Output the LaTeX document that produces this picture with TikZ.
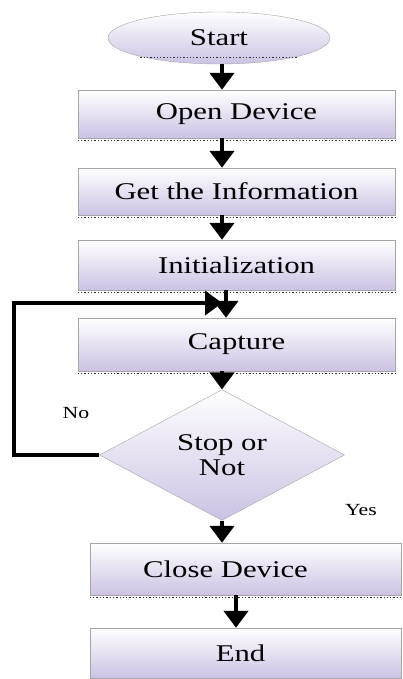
\documentclass[tikz,border=0pt]{standalone}
\usepackage{fontspec}
\setmainfont{Liberation Serif}
\usetikzlibrary{shapes.geometric,arrows.meta}
\definecolor{lav}{RGB}{204,194,228}
\newcommand{\wide}[1]{\scalebox{1.28}[1]{#1}}
\tikzset{
    box/.style = {draw = gray!70, thin, rectangle, top color = white, bottom color = lav,
        inner sep = 0pt, font = \fontsize{24}{27}\selectfont},
    flow/.style = {line width = 4.5pt, -{Triangle[width = 24pt, length = 17pt]}},
    shade/.style = {dotted, line width = 1.3pt, gray!40!black}
}
\begin{document}
\begin{tikzpicture}[x = 1pt, y = 1pt]
        \useasboundingbox (0,0) rectangle (402,-679);
        \node[box, ellipse, minimum width = 222pt, minimum height = 52pt] (Start) at (219,-38) {\wide{Start}};
        \node[box, minimum width = 317pt, minimum height = 48pt] (Open) at (236.5,-114) {\wide{Open Device}};
        \node[box, minimum width = 317pt, minimum height = 47pt] (Info) at (236.5,-191.5) {\wide{Get the Information}};
        \node[box, minimum width = 317pt, minimum height = 50pt] (Init) at (236.5,-265) {\wide{Initialization}};
        \node[box, minimum width = 317pt, minimum height = 53pt] (Capture) at (236.5,-344.5) {\wide{Capture}};
        \node[box, diamond, minimum width = 245pt, minimum height = 112pt, align = center] (Stop) at (222,-455) {\wide{Stop or}\\[-2pt]\wide{Not}};
        \node[box, minimum width = 311pt, minimum height = 52pt] (Close) at (245.5,-569) {\wide{Close Device}\hspace*{40pt}};
        \node[box, minimum width = 311pt, minimum height = 50pt] (End) at (245.5,-653) {\wide{End}\hspace*{10pt}};
        \foreach \n in {Open, Info, Init, Capture, Close, End}
            \draw[shade] ([yshift = -2pt]\n.south west) -- ([yshift = -2pt]\n.south east);
        \draw[shade] ([yshift = -1pt]Start.south west) -- ([yshift = -1pt]Start.south east);
        \node[font = \fontsize{17}{19}\selectfont] (No) at (76,-413) {\wide{No}};
        \node[font = \fontsize{17}{19}\selectfont] (Yes) at (361,-510) {\wide{Yes}};
        % main line
        \coordinate (Axis) at (222,0);
        \draw[flow] (Start.south -| Axis) -- (Open.north -| Axis);
        \draw[flow] (Open.south -| Axis) -- (Info.north -| Axis);
        \draw[flow] (Info.south -| Axis) -- (Init.north -| Axis);
        \draw[flow] ([xshift = 4pt]Init.south -| Axis) -- ([xshift = 4pt]Capture.north -| Axis);
        \draw[flow] (Capture.south -| Axis) -- (Stop.north);
        \draw[flow] (Stop.south) -- (Close.north -| Stop.south);
        \draw[flow] ([xshift = 14pt]Close.south -| Axis) -- ([xshift = 14pt]End.north -| Axis);
        % loop back
        \coordinate (Turn) at (14,-303);
        \coordinate (Join) at (222,-303);
        \draw[flow] (Stop.west) -| (Turn) -- (Join);
    \end{tikzpicture}
\end{document}
